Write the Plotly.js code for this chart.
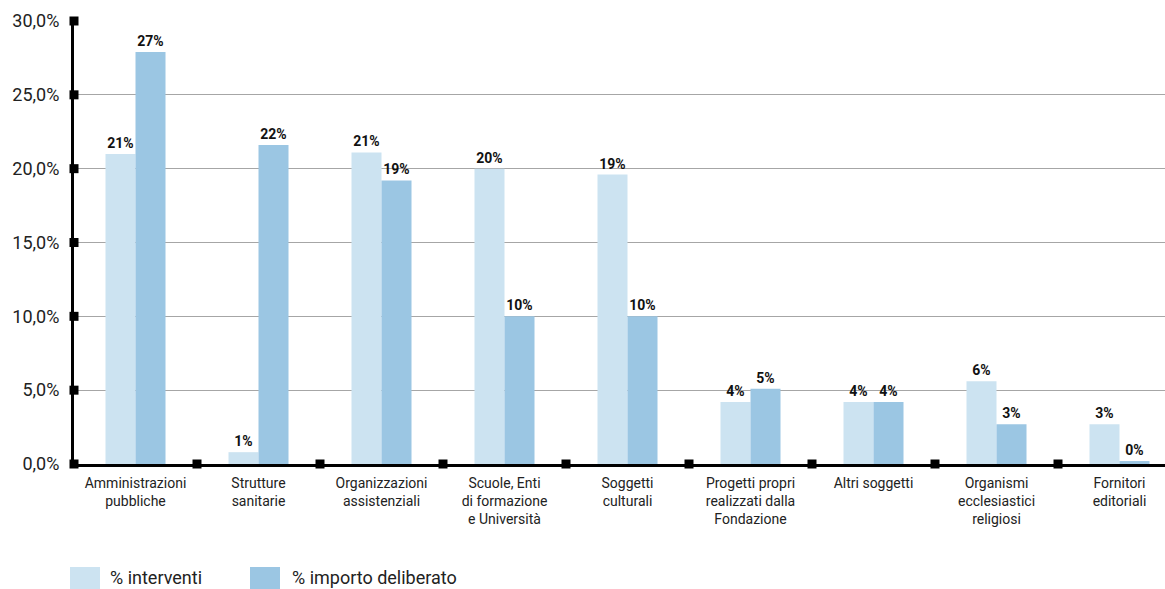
<!DOCTYPE html>
<html>
<head>
<meta charset="utf-8">
<script src="https://cdn.plot.ly/plotly-3.0.1.min.js"></script>
<style>html,body{margin:0;padding:0;background:#fff;overflow:hidden}</style>
</head>
<body>
<div id="chart" style="width:1165px;height:589px"></div>
<script>
const categories = [
  "Amministrazioni<br>pubbliche",
  "Strutture<br>sanitarie",
  "Organizzazioni<br>assistenziali",
  "Scuole, Enti<br>di formazione<br>e Università",
  "Soggetti<br>culturali",
  "Progetti propri<br>realizzati dalla<br>Fondazione",
  "Altri soggetti",
  "Organismi<br>ecclesiastici<br>religiosi",
  "Fornitori<br>editoriali"
];
const seriesNames = ["% interventi", "% importo deliberato"];
const interventi = [21.0, 0.8, 21.1, 20.0, 19.6, 4.2, 4.2, 5.6, 2.7];
const importo = [27.9, 21.6, 19.2, 10.0, 10.0, 5.1, 4.2, 2.7, 0.2];
const interventiLabels = ["21%", "1%", "21%", "20%", "19%", "4%", "4%", "6%", "3%"];
const importoLabels = ["27%", "22%", "19%", "10%", "10%", "5%", "4%", "3%", "0%"];
const yTicks = [0, 5, 10, 15, 20, 25, 30];
const yTickLabels = ["0,0%", "5,0%", "10,0%", "15,0%", "20,0%", "25,0%", "30,0%"];

const colors = ["#cce3f1", "#9bc6e3"];
const idx = categories.map((_, i) => i);
const labelFont = {family: "Roboto, sans-serif", size: 14, color: "#111", weight: 700};

const traces = [
  {type: "bar", name: seriesNames[0], x: idx, y: interventi, text: interventiLabels,
   textposition: "outside", textfont: labelFont, cliponaxis: false,
   marker: {color: colors[0]}, showlegend: false, hoverinfo: "skip"},
  {type: "bar", name: seriesNames[1], x: idx, y: importo, text: importoLabels,
   textposition: "outside", textfont: labelFont, cliponaxis: false,
   marker: {color: colors[1]}, showlegend: false, hoverinfo: "skip"},
  {type: "scatter", mode: "markers",
   x: idx.slice(1).map(i => i - 0.5), y: idx.slice(1).map(() => 0),
   marker: {symbol: "square", size: 9, color: "#000"}, cliponaxis: false,
   showlegend: false, hoverinfo: "skip"},
  {type: "scatter", mode: "markers",
   x: yTicks.map(() => -0.5), y: yTicks,
   marker: {symbol: "square", size: 9, color: "#000"}, cliponaxis: false,
   showlegend: false, hoverinfo: "skip"}
];

const layout = {
  width: 1165, height: 589,
  margin: {l: 74, r: 0, t: 21, b: 125},
  paper_bgcolor: "#fff", plot_bgcolor: "#fff",
  barmode: "group", bargap: 0.512, bargroupgap: 0,
  font: {family: "Roboto, sans-serif", color: "#222"},
  xaxis: {
    range: [-0.5, -0.5 + (1165 - 74) / 123],
    tickvals: idx, ticktext: categories,
    tickfont: {size: 14, color: "#222"},
    showline: true, linecolor: "#000", linewidth: 3,
    showgrid: false, zeroline: false, ticks: "", ticklabelstandoff: 4,
    fixedrange: true
  },
  yaxis: {
    range: [0, 30], tickvals: yTicks, ticktext: yTickLabels,
    tickfont: {size: 18, color: "#222"},
    showline: true, linecolor: "#000", linewidth: 3,
    showgrid: true, gridcolor: "#a6a6a6", gridwidth: 1,
    zeroline: false, ticks: "", ticklabelstandoff: 8,
    fixedrange: true
  },
  shapes: [
    {type: "rect", xref: "paper", yref: "paper", x0: -4/1091, x1: 26/1091, y0: -126/443, y1: -103/443,
     fillcolor: colors[0], line: {width: 0}},
    {type: "rect", xref: "paper", yref: "paper", x0: 176/1091, x1: 206/1091, y0: -126/443, y1: -103/443,
     fillcolor: colors[1], line: {width: 0}}
  ],
  annotations: [
    {xref: "paper", yref: "paper", x: 34/1091, y: -126/443, xanchor: "left", yanchor: "bottom",
     text: seriesNames[0], showarrow: false, font: {size: 18, color: "#222"}},
    {xref: "paper", yref: "paper", x: 216/1091, y: -126/443, xanchor: "left", yanchor: "bottom",
     text: seriesNames[1], showarrow: false, font: {size: 18, color: "#222"}}
  ]
};

Plotly.newPlot("chart", traces, layout, {displayModeBar: false, staticPlot: true});
</script>
</body>
</html>
